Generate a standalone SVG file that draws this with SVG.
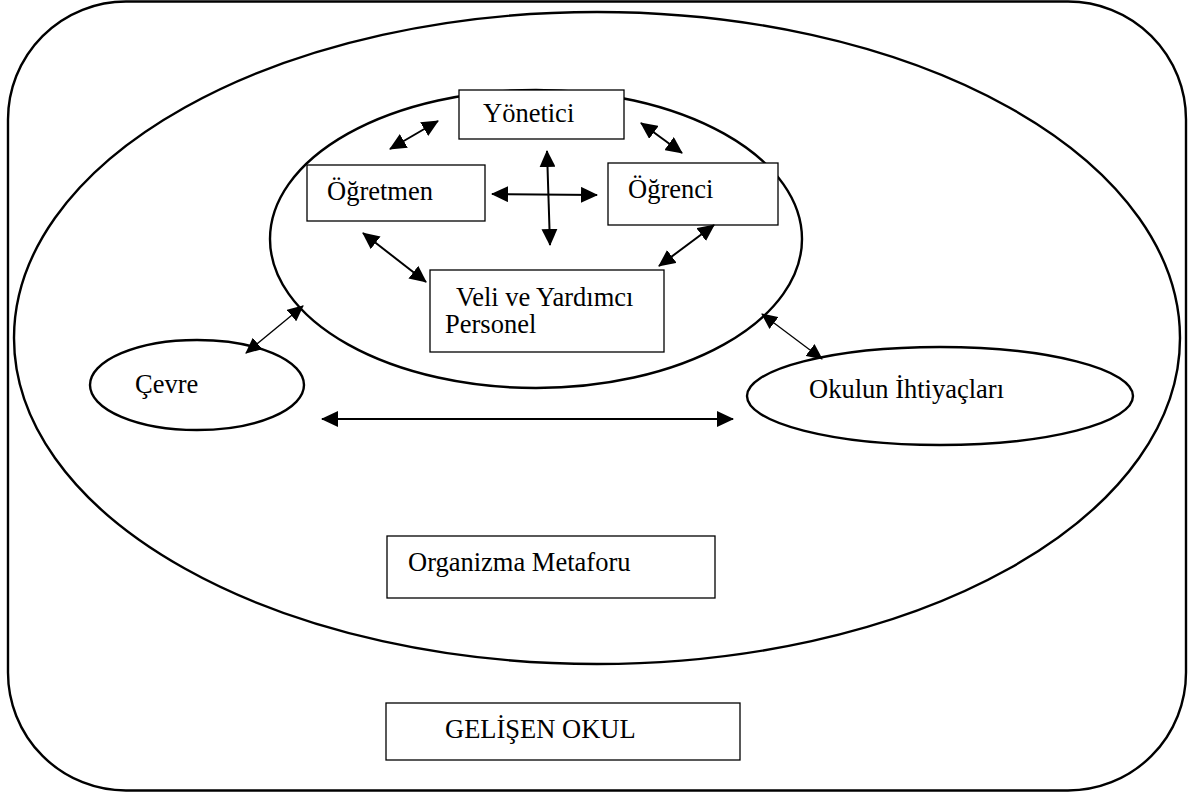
<svg xmlns="http://www.w3.org/2000/svg" width="1195" height="794" viewBox="0 0 1195 794">
<style>
.s{fill:#fff;stroke:#000;stroke-width:2.4}
.b{fill:#fff;stroke:#000;stroke-width:1.3}
text{font-family:"Liberation Serif","Times New Roman",serif;font-size:26.5px;fill:#000}
.c{stroke:#000;stroke-width:2;fill:none;marker-start:url(#h);marker-end:url(#h)}
.t{stroke:#000;stroke-width:1.3;fill:none;marker-start:url(#h2);marker-end:url(#h2)}
</style>
<defs>
<marker id="h" markerUnits="userSpaceOnUse" markerWidth="17" markerHeight="16" refX="16" refY="8" orient="auto-start-reverse"><path d="M0,0 L17,8 L0,16 Z" fill="#000"/></marker>
<marker id="h2" markerUnits="userSpaceOnUse" markerWidth="16" markerHeight="15" refX="15" refY="7.5" orient="auto-start-reverse"><path d="M0,0 L16,7.5 L0,15 Z" fill="#000"/></marker>
</defs>
<g id="outer"><rect class="s" x="8" y="1.5" width="1178" height="789" rx="118" ry="118"/></g>
<g id="organism"><ellipse class="s" cx="597" cy="338" rx="583" ry="326"/></g>
<g id="core"><ellipse class="s" cx="536" cy="239" rx="266" ry="149"/></g>
<g id="yonetici"><rect class="b" x="459" y="90" width="165" height="49"/><text x="483" y="122">Yönetici</text></g>
<g id="ogretmen"><rect class="b" x="307" y="165" width="178" height="56"/><text x="327" y="200">Öğretmen</text></g>
<g id="ogrenci"><rect class="b" x="608" y="163" width="170" height="62"/><text x="628" y="198">Öğrenci</text></g>
<g id="veli"><rect class="b" x="430" y="270" width="234" height="82"/><text x="456" y="306">Veli ve Yardımcı</text><text x="445" y="333">Personel</text></g>
<g id="cevre"><ellipse class="s" cx="197" cy="385" rx="107" ry="45"/><text x="135" y="393">Çevre</text></g>
<g id="ihtiyac"><ellipse class="s" cx="940" cy="396" rx="193" ry="49"/><text x="809" y="398">Okulun İhtiyaçları</text></g>
<g id="metafor"><rect class="b" x="387" y="536" width="328" height="62"/><text x="408" y="571">Organizma Metaforu</text></g>
<g id="gelisen"><rect class="b" x="386" y="703" width="354" height="57"/><text x="445" y="738">GELİŞEN OKUL</text></g>
<g id="connectors">
<line class="c" x1="390" y1="149" x2="438" y2="121"/>
<line class="c" x1="641" y1="123" x2="682" y2="153"/>
<line class="c" x1="492" y1="194" x2="597" y2="195"/>
<line class="c" x1="547" y1="151" x2="550" y2="245"/>
<line class="c" x1="363" y1="233" x2="426" y2="282"/>
<line class="c" x1="714" y1="225" x2="659" y2="266"/>
<line class="t" x1="303" y1="306" x2="246" y2="353"/>
<line class="t" x1="762" y1="314" x2="822" y2="359"/>
<line class="c" x1="322" y1="419" x2="733" y2="419"/>
</g>
</svg>
